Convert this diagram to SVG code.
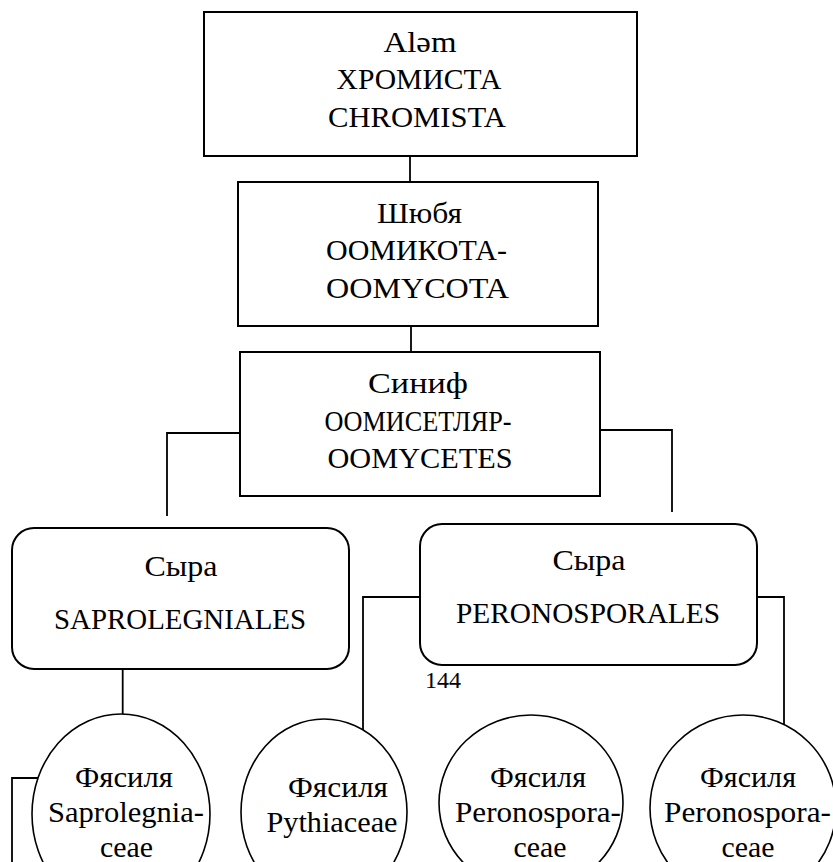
<svg xmlns="http://www.w3.org/2000/svg" width="833" height="862" viewBox="0 0 833 862">
<style>
.bg{fill:#ffffff}
.box{fill:#ffffff;stroke:#000;stroke-width:2}
.ell{fill:#ffffff;stroke:#000;stroke-width:1.6}
.con{fill:none;stroke:#000;stroke-width:1.8}
text{font-family:"Liberation Serif","DejaVu Serif",serif;font-size:29px;fill:#000;text-anchor:middle}
.pg{font-size:24px}
</style>
<rect class="bg" x="0" y="0" width="833" height="862"/>
<g id="connectors">
<line class="con" x1="410" y1="156" x2="410" y2="182"/>
<line class="con" x1="411" y1="326" x2="411" y2="352"/>
<polyline class="con" points="240,433 167,433 167,516"/>
<polyline class="con" points="600,430 672,430 672,512"/>
<line class="con" x1="122.7" y1="669" x2="122.7" y2="720"/>
<polyline class="con" points="420,597 363,597 363,735"/>
<polyline class="con" points="757,597 784,597 784,735"/>
<polyline class="con" points="42,778 12,778 12,862"/>
</g>
<g id="n-chromista">
<rect class="box" x="204" y="12" width="433" height="144"/>
<text x="420" y="52" textLength="73" lengthAdjust="spacingAndGlyphs">Aləm</text>
<text x="419" y="89" textLength="165" lengthAdjust="spacingAndGlyphs">ХРОМИСТА</text>
<text x="417" y="127" textLength="178" lengthAdjust="spacingAndGlyphs">CHROMISTA</text>
</g>
<g id="n-oomycota">
<rect class="box" x="238" y="182" width="360" height="144"/>
<text x="419.5" y="223" textLength="85" lengthAdjust="spacingAndGlyphs">Шюбя</text>
<text x="416.5" y="260" textLength="181" lengthAdjust="spacingAndGlyphs">ООМИКОТА-</text>
<text x="417.5" y="298" textLength="183" lengthAdjust="spacingAndGlyphs">OOMYCOTA</text>
</g>
<g id="n-oomycetes">
<rect class="box" x="240" y="352" width="360" height="144"/>
<text x="418" y="393" textLength="100" lengthAdjust="spacingAndGlyphs">Синиф</text>
<text x="418" y="431" textLength="187" lengthAdjust="spacingAndGlyphs">ООМИСЕТЛЯР-</text>
<text x="420" y="468" textLength="185" lengthAdjust="spacingAndGlyphs">OOMYCETES</text>
</g>
<g id="n-saprolegniales">
<rect class="box" x="12" y="528" width="337" height="141" rx="22" ry="22"/>
<text x="181" y="576" textLength="73" lengthAdjust="spacingAndGlyphs">Сыра</text>
<text x="180" y="629" textLength="252" lengthAdjust="spacingAndGlyphs">SAPROLEGNIALES</text>
</g>
<g id="n-peronosporales">
<rect class="box" x="420" y="524" width="337" height="141" rx="22" ry="22"/>
<text x="589" y="570" textLength="73" lengthAdjust="spacingAndGlyphs">Сыра</text>
<text x="588" y="623" textLength="264" lengthAdjust="spacingAndGlyphs">PERONOSPORALES</text>
</g>
<g id="page-number">
<text class="pg" x="443" y="688" textLength="36" lengthAdjust="spacingAndGlyphs">144</text>
</g>
<g id="n-saprolegniaceae">
<ellipse class="ell" cx="121" cy="814" rx="89" ry="100"/>
<text x="124" y="787" textLength="98" lengthAdjust="spacingAndGlyphs">Фясиля</text>
<text x="126" y="822" textLength="156" lengthAdjust="spacingAndGlyphs">Saprolegnia-</text>
<text x="126.5" y="857" textLength="53" lengthAdjust="spacingAndGlyphs">ceae</text>
</g>
<g id="n-pythiaceae">
<ellipse class="ell" cx="324" cy="812" rx="83" ry="93"/>
<text x="338" y="797" textLength="100" lengthAdjust="spacingAndGlyphs">Фясиля</text>
<text x="332" y="832" textLength="131" lengthAdjust="spacingAndGlyphs">Pythiaceae</text>
</g>
<g id="n-peronosporaceae-1">
<ellipse class="ell" cx="531" cy="803" rx="92" ry="88"/>
<text x="538" y="787" textLength="96" lengthAdjust="spacingAndGlyphs">Фясиля</text>
<text x="538" y="822" textLength="166" lengthAdjust="spacingAndGlyphs">Peronospora-</text>
<text x="540" y="857" textLength="53" lengthAdjust="spacingAndGlyphs">ceae</text>
</g>
<g id="n-peronosporaceae-2">
<ellipse class="ell" cx="743" cy="808" rx="93" ry="93"/>
<text x="748" y="787" textLength="96" lengthAdjust="spacingAndGlyphs">Фясиля</text>
<text x="747.5" y="822" textLength="167" lengthAdjust="spacingAndGlyphs">Peronospora-</text>
<text x="748" y="857" textLength="53" lengthAdjust="spacingAndGlyphs">ceae</text>
</g>
</svg>
